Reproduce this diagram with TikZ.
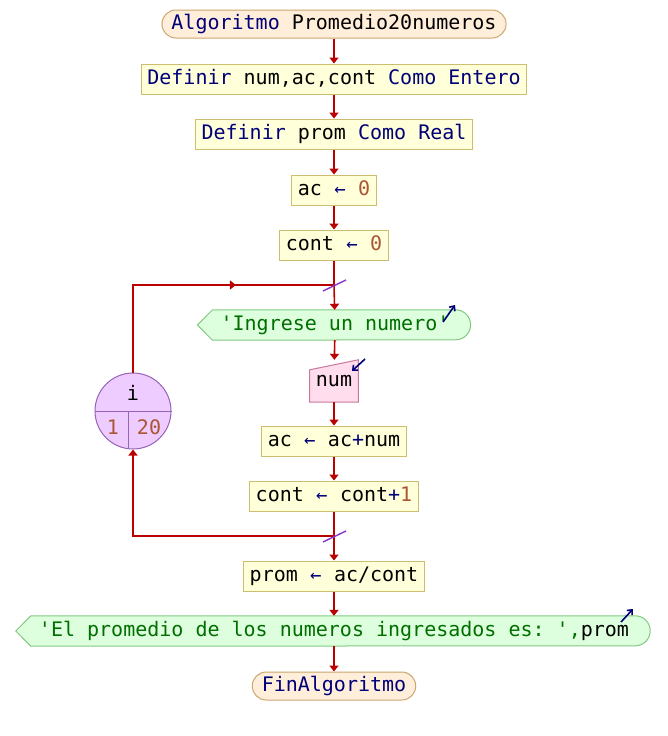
\documentclass[tikz,border=0pt]{standalone}
\usepackage{fontspec}
\setmonofont{DejaVu Sans Mono}
\usetikzlibrary{positioning, calc, arrows.meta, backgrounds, decorations.markings}
\tikzset{>=latex}

\definecolor{flowred}{RGB}{187,0,0}
\definecolor{kwblue}{RGB}{0,0,120}
\definecolor{numbrown}{RGB}{170,85,51}
\definecolor{strgreen}{RGB}{0,110,0}
\definecolor{procfill}{RGB}{255,255,218}
\definecolor{procborder}{RGB}{204,190,110}
\definecolor{termfill}{RGB}{255,238,218}
\definecolor{termborder}{RGB}{204,165,110}
\definecolor{outfill}{RGB}{221,255,221}
\definecolor{outborder}{RGB}{130,200,130}
\definecolor{infill}{RGB}{255,221,236}
\definecolor{inborder}{RGB}{200,120,155}
\definecolor{loopfill}{RGB}{238,204,255}
\definecolor{loopborder}{RGB}{150,100,185}
\definecolor{slashpurple}{RGB}{136,51,204}

\newcommand{\kw}[1]{\textcolor{kwblue}{#1}}
\newcommand{\nm}[1]{\textcolor{numbrown}{#1}}
\newcommand{\asg}{\makebox[12.04pt]{\textcolor{kwblue}{\fontsize{19}{19}\selectfont ←}}}

\begin{document}
\begin{tikzpicture}
    [
        x=1pt, y=1pt,
        font=\ttfamily\fontsize{20}{24}\selectfont,
        every node/.style={text height=15pt, text depth=5pt},
        proc_node/.style={rectangle, draw=procborder, fill=procfill, line width=1pt, inner xsep=6pt, inner ysep=5pt},
        term_node/.style={rectangle, rounded corners=14pt, draw=termborder, fill=termfill, line width=1pt, inner xsep=9.5pt, inner ysep=4pt},
        out_node/.style={inner xsep=0pt, inner ysep=5pt, text=strgreen},
        in_node/.style={inner xsep=6pt, minimum height=42pt},
        loop_node/.style={circle, draw=loopborder, fill=loopfill, line width=1pt, minimum size=76pt, inner sep=0pt},
        out_shape/.style={draw=outborder, fill=outfill, line width=1pt},
        in_shape/.style={draw=inborder, fill=infill, line width=1pt},
        loop_line/.style={draw=loopborder, line width=1pt},
        flow/.style={color=flowred, line width=1.6pt},
        arr/.style={flow, -{Triangle[width=9pt,length=6pt]}},
        mid_arr/.style={postaction={decorate}, decoration={markings, mark=at position 0.66 with {\arrow{Triangle[width=9pt,length=6pt]}}}},
        slash/.style={draw=slashpurple, line width=1.4pt},
        io_arrow/.style={draw=kwblue, line width=1.6pt, -{Straight Barb[length=4pt,width=7pt]}},
    ]
  \useasboundingbox (0,0) rectangle (668,-736);

  \node[term_node] (start) at (334,-24) {\kw{Algoritmo} Promedio20numeros};
  \node[proc_node] (def1) at (334,-79) {\kw{Definir} num,ac,cont \kw{Como} \kw{Entero}};
  \node[proc_node] (def2) at (334,-134) {\kw{Definir} prom \kw{Como} \kw{Real}};
  \node[proc_node] (ac0) at (334,-190) {ac \asg{} \nm{0}};
  \node[proc_node] (cont0) at (334,-245) {cont \asg{} \nm{0}};
  \coordinate (looptop) at (334,-285);
  \node[out_node] (askout) at (335,-325) {'Ingrese un numero'};
  \node[in_node] (numin) at (334,-381) {num};
  \node[proc_node] (acsum) at (334,-441) {ac \asg{} ac\kw{+}num};
  \node[proc_node] (continc) at (334,-496) {cont \asg{} cont\kw{+}\nm{1}};
  \coordinate (loopbot) at (334,-536);
  \node[proc_node] (promcalc) at (334,-576) {prom \asg{} ac/cont};
  \node[out_node] (resout) at (334,-631) {'El promedio de los numeros ingresados es: ',\textcolor{black}{prom}};
  \node[term_node] (finish) at (334,-686) {\kw{FinAlgoritmo}};

  % loop counter
  \node[loop_node] (loopc) at (133,-411) {};
  \draw[loop_line] (loopc.west) -- (loopc.east);
  \draw[loop_line] (128,-411) -- (128,-447.6);
  \node (loopvar) at (133,-395) {i};
  \node[text=numbrown] (loopfrom) at (113,-429) {1};
  \node[text=numbrown] (loopto) at (149,-429) {20};

  % io shapes
  \begin{scope}[on background layer]
    \foreach \o in {askout, resout} {
      \draw[out_shape] ($(\o.west)+(-23,0)$) -- ($(\o.north west)+(-8,0)$) -- ($(\o.north east)+(6,0)$)
        arc[start angle=90, end angle=-90, x radius=15pt, y radius=15pt] -- ($(\o.south west)+(-8,0)$) -- cycle;
    }
    \draw[in_shape] (numin.south west) -- ($(numin.north west)+(0,-10)$) -- (numin.north east) -- (numin.south east) -- cycle;
  \end{scope}

  \draw[arr] (start) -- (def1);
  \draw[arr] (def1) -- (def2);
  \draw[arr] (def2) -- (ac0);
  \draw[arr] (ac0) -- (cont0);
  \draw[flow] (cont0) -- (looptop);
  \draw[arr] (looptop) -- (askout);
  \draw[arr] (askout) -- (numin);
  \draw[arr] (numin) -- (acsum);
  \draw[arr] (acsum) -- (continc);
  \draw[flow] (continc) -- (loopbot);
  \draw[arr] (loopbot) -- (promcalc);
  \draw[arr] (promcalc) -- (resout);
  \draw[arr] (resout) -- (finish);
  \draw[arr] (loopbot) -| (loopc.south);
  \draw[flow, mid_arr] (loopc.north) |- (looptop);

  \draw[slash] ($(looptop)+(-11,-6)$) -- ($(looptop)+(12,5)$);
  \draw[slash] ($(loopbot)+(-11,-6)$) -- ($(loopbot)+(12,5)$);

  \draw[io_arrow] (443,-322) -- (455,-305);
  \draw[io_arrow] (365,-359) -- (352,-371);
  \draw[io_arrow] (621,-622) -- (633,-609);
\end{tikzpicture}
\end{document}
